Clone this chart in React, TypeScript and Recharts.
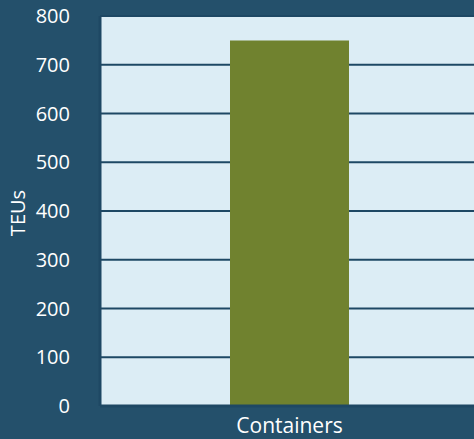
import { BarChart, Bar, XAxis, YAxis, CartesianGrid, Label } from 'recharts'

const categories = ['Containers']
const teus = [750]
const yTicks = [0, 100, 200, 300, 400, 500, 600, 700, 800]

const data = categories.map((name, i) => ({ name, teus: teus[i] }))

const BG = '#24506b'
const PLOT = '#dcedf5'
const BAR = '#70822f'
const LINE = '#1e4864'
const FONT = '"Open Sans", sans-serif'

export default function App() {
  return (
    <div style={{ position: 'fixed', top: 0, left: 0, width: 474, height: 439, background: BG }}>
      <BarChart
        width={474}
        height={439}
        data={data}
        margin={{ top: 16, right: -5, bottom: 0, left: 0 }}
      >
        <CartesianGrid
          vertical={false}
          fill={PLOT}
          fillOpacity={1}
          stroke={LINE}
          strokeWidth={2}
        />
        <XAxis
          dataKey="name"
          height={33}
          axisLine={{ stroke: LINE, strokeWidth: 3 }}
          tickLine={false}
          tick={{ fill: '#ffffff', fontSize: 21, fontFamily: FONT }}
          tickMargin={6}
        />
        <YAxis
          width={100}
          domain={[0, 800]}
          ticks={yTicks}
          interval={0}
          axisLine={{ stroke: LINE, strokeWidth: 3 }}
          tickLine={false}
          tick={{ fill: '#ffffff', fontSize: 20, fontFamily: FONT }}
          tickMargin={24}
        >
          <Label
            value="TEUs"
            angle={-90}
            position="insideLeft"
            offset={18}
            dy={2}
            style={{ fill: '#ffffff', fontSize: 20, fontFamily: FONT, textAnchor: 'middle' }}
          />
        </YAxis>
        <Bar dataKey="teus" fill={BAR} barSize={119} isAnimationActive={false} />
      </BarChart>
    </div>
  )
}
